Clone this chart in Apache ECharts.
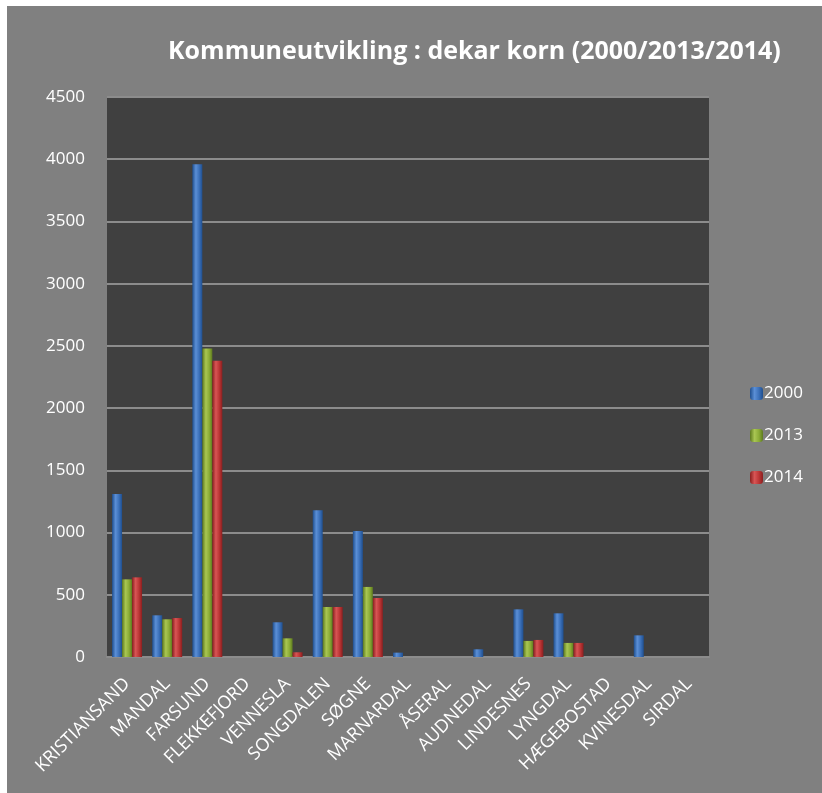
<!DOCTYPE html>
<html>
<head>
<meta charset="utf-8">
<script src="https://cdn.jsdelivr.net/npm/echarts@6/dist/echarts.min.js"></script>
<style>
  html, body { margin: 0; padding: 0; background: #ffffff; }
  #chart { position: absolute; left: 7px; top: 6px; width: 815px; height: 787px; }
</style>
</head>
<body>
<div id="chart"></div>
<script>
// kommuner (x-akse)
const kommuner = ["KRISTIANSAND", "MANDAL", "FARSUND", "FLEKKEFJORD", "VENNESLA", "SONGDALEN",
  "SØGNE", "MARNARDAL", "ÅSERAL", "AUDNEDAL", "LINDESNES", "LYNGDAL", "HÆGEBOSTAD",
  "KVINESDAL", "SIRDAL"];
// dekar korn per år
const aar2000 = [1310, 335, 3960, 0, 279, 1179, 1013, 35, 0, 62, 383, 351, 0, 174, 0];
const aar2013 = [624, 303, 2480, 0, 150, 402, 563, 0, 0, 0, 129, 113, 0, 0, 0];
const aar2014 = [640, 313, 2380, 0, 38, 402, 474, 0, 0, 0, 137, 113, 0, 0, 0];
const yTicks = [0, 500, 1000, 1500, 2000, 2500, 3000, 3500, 4000, 4500];

const fontFam = "'Open Sans', 'DejaVu Sans', sans-serif";

function barColor(dark, mid, light) {
  return new echarts.graphic.LinearGradient(0, 0, 1, 0, [
    { offset: 0, color: dark },
    { offset: 0.35, color: light },
    { offset: 0.7, color: mid },
    { offset: 1, color: dark },
  ]);
}

const chart = echarts.init(document.getElementById("chart"));

let option = {
  backgroundColor: "#808080",
  animation: false,
  title: {
    text: "Kommuneutvikling : dekar korn (2000/2013/2014)",
    left: 156,
    top: 28,
    textStyle: {
      color: "#ffffff",
      fontSize: 25,
      fontWeight: "bold",
      fontFamily: fontFam,
    },
  },
  legend: {
    orient: "vertical",
    left: 738,
    top: 374,
    itemWidth: 13,
    itemHeight: 13,
    itemGap: 25,
    data: ["2000", "2013", "2014"],
    textStyle: { color: "#ffffff", fontSize: 17, fontFamily: fontFam, padding: [0, 0, 0, -4] },
  },
  grid: {
    left: 100,
    top: 91,
    width: 602,
    height: 560,
    show: true,
    backgroundColor: "#404040",
    borderWidth: 0,
  },
  xAxis: {
    type: "category",
    data: kommuner,
    axisLine: { lineStyle: { color: "#8c8c8c", width: 2 } },
    axisTick: { show: false },
    axisLabel: {
      interval: 0,
      rotate: 45,
      color: "#ffffff",
      fontSize: 18,
      fontFamily: fontFam,
      margin: 24,
    },
  },
  yAxis: {
    type: "value",
    min: 0,
    max: yTicks[yTicks.length - 1],
    interval: 500,
    axisLine: { show: false },
    axisTick: { show: false },
    splitLine: { lineStyle: { color: "#8c8c8c", width: 2 } },
    axisLabel: {
      color: "#ffffff",
      fontSize: 17,
      fontFamily: fontFam,
      margin: 22,
      formatter: (v) => String(v),
    },
  },
  series: [
    {
      name: "2000",
      type: "bar",
      barWidth: 10,
      barGap: "0%",
      itemStyle: { color: barColor("#1f4f8f", "#3a6fb8", "#5b8fd6") },
      data: aar2000,
    },
    {
      name: "2013",
      type: "bar",
      barWidth: 10,
      barGap: "0%",
      itemStyle: { color: barColor("#5d7a1f", "#8aab36", "#a9c653") },
      data: aar2013,
    },
    {
      name: "2014",
      type: "bar",
      barWidth: 10,
      barGap: "0%",
      itemStyle: { color: barColor("#8a1f1f", "#bb3535", "#d85555") },
      data: aar2014,
    },
  ],
};
chart.setOption(option);
</script>
</body>
</html>
